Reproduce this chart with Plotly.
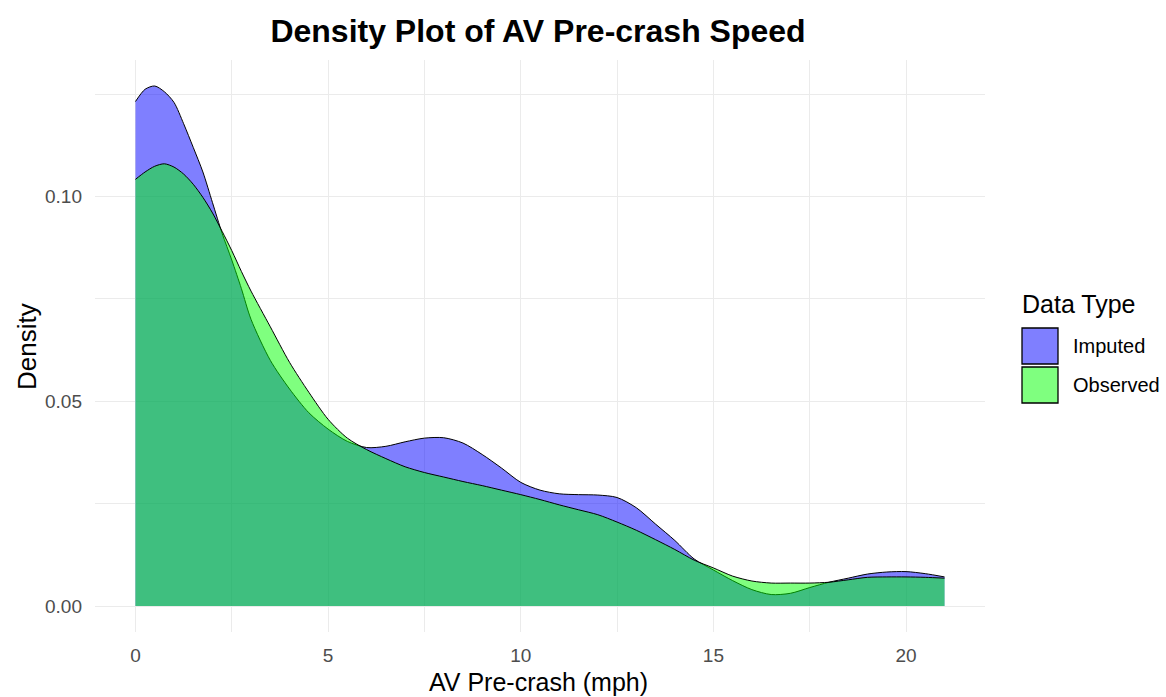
import plotly.graph_objects as go

# ---- data ----
speed = [0, 0.25, 0.5, 0.75, 1.0, 1.25, 1.5, 1.75, 2.0, 2.25, 2.5, 2.75, 3.0,
         3.5, 4.0, 4.5, 5.0, 5.5, 6.0, 6.5, 7.0, 7.5, 8.0, 8.5, 9.0, 9.5, 10.0,
         10.5, 11.0, 11.5, 12.0, 12.5, 13.0, 13.5, 14.0, 14.5, 15.0, 15.5, 16.0,
         16.5, 17.0, 17.5, 18.0, 18.5, 19.0, 19.5, 20.0, 20.5, 21.0]

imputed = [0.1232, 0.1262, 0.1270, 0.1256, 0.1230, 0.1178, 0.1120, 0.1060, 0.0985,
           0.0910, 0.0845, 0.0775, 0.0700, 0.0600, 0.0530, 0.0472, 0.0432, 0.0402,
           0.0387, 0.0390, 0.0401, 0.0410, 0.0411, 0.0398, 0.0370, 0.0337, 0.0302,
           0.0283, 0.0274, 0.0272, 0.0271, 0.0265, 0.0240, 0.0200, 0.0160, 0.0115,
           0.0088, 0.0062, 0.0040, 0.0028, 0.0031, 0.0045, 0.0058, 0.0068, 0.0078,
           0.0083, 0.0084, 0.0079, 0.0071]

observed = [0.1042, 0.1060, 0.1074, 0.1080, 0.1072, 0.1055, 0.1030, 0.0998, 0.0960,
            0.0915, 0.0868, 0.0817, 0.0769, 0.0682, 0.0595, 0.0522, 0.0456, 0.0410,
            0.0382, 0.0360, 0.0340, 0.0326, 0.0315, 0.0304, 0.0294, 0.0283, 0.0272,
            0.0260, 0.0247, 0.0235, 0.0223, 0.0205, 0.0185, 0.0162, 0.0138, 0.0112,
            0.0093, 0.0073, 0.0061, 0.0056, 0.0056, 0.0056, 0.0058, 0.0064, 0.0070,
            0.0071, 0.0071, 0.0070, 0.0068]

series_names = ["Imputed", "Observed"]
x_ticks = [0, 5, 10, 15, 20]
y_ticks = [0.00, 0.05, 0.10]
y_tick_text = ["0.00", "0.05", "0.10"]

# ---- styling ----
FONT = "Liberation Sans, Arial, sans-serif"
fill_cols = ["rgba(0,0,255,0.5)", "rgba(0,255,0,0.5)"]
key_cols = ["#7F7FFF", "#7FFF7F"]
GRID = "#EBEBEB"

W, H = 1166, 697
L, R, T, B = 95, 181, 60, 65
pw, ph = W - L - R, H - T - B


def px_to_paper(xp, yp):
    return (xp - L) / pw, (H - B - yp) / ph


fig = go.Figure()
for name, vals, col in zip(series_names, [imputed, observed], fill_cols):
    fig.add_trace(go.Scatter(
        x=speed, y=vals, name=name, mode="lines",
        line=dict(color="black", width=1, shape="spline", smoothing=0.8),
        fill="tozeroy", fillcolor=col, showlegend=False,
    ))

xmin, xmax = 0, 21
ymax = max(max(imputed), max(observed))
xr = [xmin - 0.05 * (xmax - xmin), xmax + 0.05 * (xmax - xmin)]
yr = [-0.05 * ymax, ymax * 1.05]

fig.update_xaxes(
    range=xr, tickvals=x_ticks, showgrid=True, gridcolor=GRID, gridwidth=1.3,
    zeroline=False, showline=False, ticks="",
    tickfont=dict(family=FONT, size=19, color="#4D4D4D"), ticklabelstandoff=10,
    minor=dict(dtick=2.5, tick0=0, showgrid=True, gridcolor=GRID, gridwidth=0.7),
)
fig.update_yaxes(
    range=yr, tickvals=y_ticks, ticktext=y_tick_text, showgrid=True,
    gridcolor=GRID, gridwidth=1.3, zeroline=False, showline=False, ticks="",
    tickfont=dict(family=FONT, size=19, color="#4D4D4D"), ticklabelstandoff=12,
    minor=dict(dtick=0.025, tick0=0, showgrid=True, gridcolor=GRID, gridwidth=0.7),
)

annotations = []
# axis titles
ax, ay = px_to_paper(538, 682)
annotations.append(dict(text="AV Pre-crash (mph)", x=ax, y=ay, xref="paper", yref="paper",
                        showarrow=False, xanchor="center", yanchor="middle",
                        font=dict(family=FONT, size=25, color="black")))
ax, ay = px_to_paper(27, 347)
annotations.append(dict(text="Density", x=ax, y=ay, xref="paper", yref="paper",
                        showarrow=False, xanchor="center", yanchor="middle", textangle=-90,
                        font=dict(family=FONT, size=26, color="black")))
# legend
ax, ay = px_to_paper(1020, 304)
annotations.append(dict(text="Data Type", x=ax, y=ay, xref="paper", yref="paper",
                        showarrow=False, xanchor="left", yanchor="middle",
                        font=dict(family=FONT, size=25, color="black")))
shapes = []
key_top = [328, 367]
for name, kc, top in zip(series_names, key_cols, key_top):
    x0, y0 = px_to_paper(1022, top + 36)
    x1, y1 = px_to_paper(1058, top)
    shapes.append(dict(type="rect", xref="paper", yref="paper", x0=x0, y0=y0, x1=x1, y1=y1,
                       fillcolor=kc, line=dict(color="black", width=1.3)))
    lx, ly = px_to_paper(1071, top + 18)
    annotations.append(dict(text=name, x=lx, y=ly, xref="paper", yref="paper",
                            showarrow=False, xanchor="left", yanchor="middle",
                            font=dict(family=FONT, size=20, color="black")))

fig.update_layout(
    width=W, height=H,
    margin=dict(l=L, r=R, t=T, b=B),
    paper_bgcolor="white", plot_bgcolor="white",
    title=dict(text="<b>Density Plot of AV Pre-crash Speed</b>", x=538 / W, xanchor="center",
               y=1 - 31 / H, yanchor="middle", yref="container",
               font=dict(family=FONT, size=32, color="black")),
    annotations=annotations, shapes=shapes,
    showlegend=False,
)

fig.write_html("out.html", config={"displayModeBar": False},
               post_script="document.body.style.margin='0';document.body.style.overflow='hidden';")
